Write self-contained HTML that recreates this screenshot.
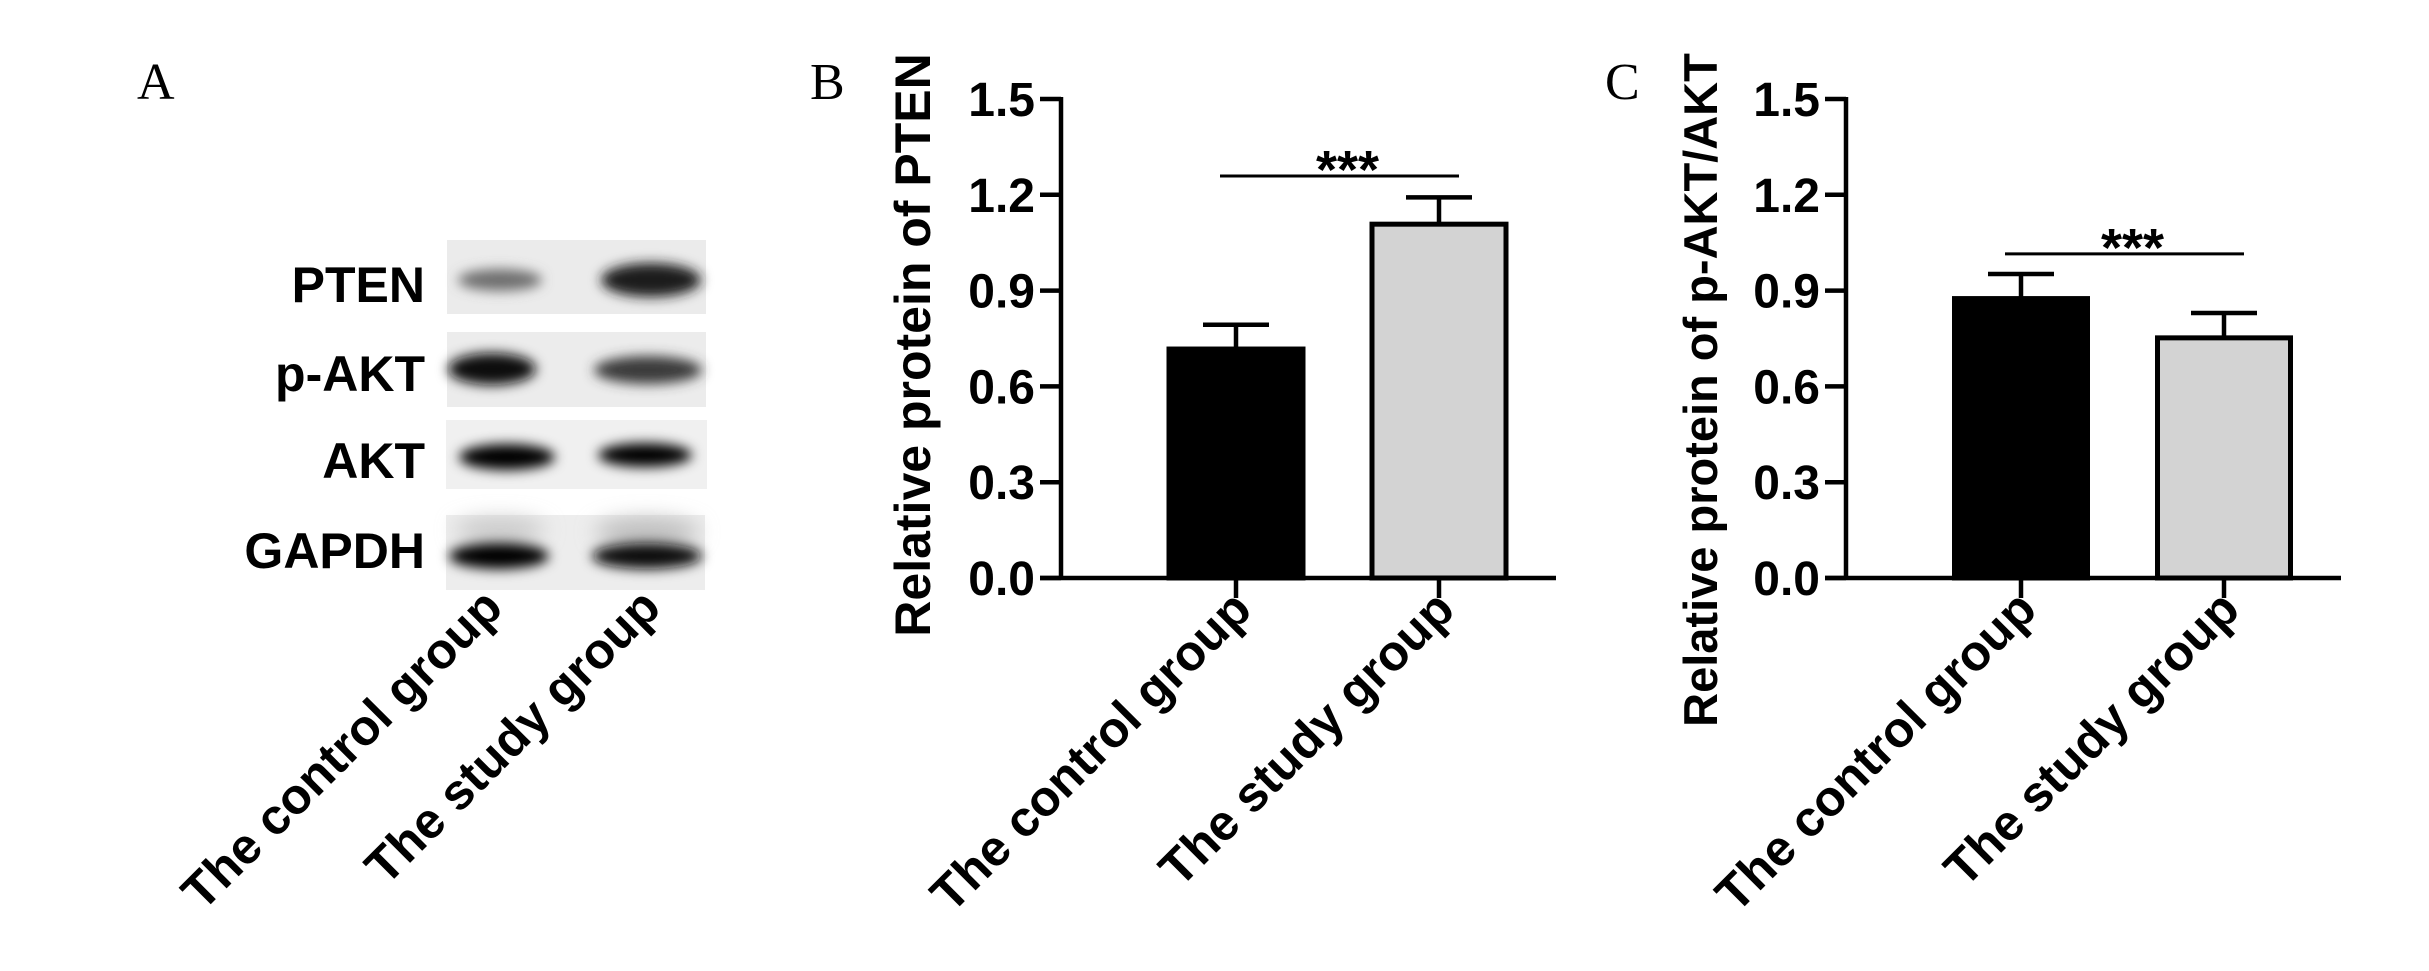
<!DOCTYPE html>
<html><head><meta charset="utf-8"><style>
html,body{margin:0;padding:0;background:#fff;}
svg{display:block;}
text{font-family:"Liberation Sans",Arial,sans-serif;}
</style></head><body>
<svg id="fig" width="2429" height="971" viewBox="0 0 2429 971" xmlns="http://www.w3.org/2000/svg">
<defs>
<filter id="blur6" x="-30%" y="-100%" width="160%" height="300%"><feGaussianBlur stdDeviation="6"/></filter>
<filter id="blur10" x="-30%" y="-100%" width="160%" height="300%"><feGaussianBlur stdDeviation="10"/></filter>
</defs>
<text x="137" y="99" font-size="52" style="font-family:'Liberation Serif',serif">A</text>
<text x="810" y="99" font-size="52" style="font-family:'Liberation Serif',serif">B</text>
<text x="1605" y="99" font-size="52" style="font-family:'Liberation Serif',serif">C</text>

<g>
  <g>
    <rect x="447" y="240" width="259" height="74" fill="#ebebeb"/>
    <ellipse cx="500" cy="280" rx="42" ry="11" fill="#6e6e6e" filter="url(#blur6)"/>
    <ellipse cx="651" cy="280" rx="50" ry="17" fill="#1e1e1e" filter="url(#blur6)"/>
  </g>
  <g>
    <rect x="447" y="332" width="259" height="75" fill="#ececec"/>
    <ellipse cx="492" cy="369" rx="44" ry="16" fill="#111" filter="url(#blur6)"/>
    <ellipse cx="648" cy="370" rx="54" ry="14" fill="#3a3a3a" filter="url(#blur6)"/>
  </g>
  <g>
    <rect x="446" y="420" width="261" height="69" fill="#f0f0f0"/>
    <ellipse cx="507" cy="457" rx="48" ry="13" fill="#000" filter="url(#blur6)"/>
    <ellipse cx="645" cy="455" rx="47" ry="12" fill="#000" filter="url(#blur6)"/>
  </g>
  <g>
    <rect x="446" y="515" width="259" height="75" fill="#ededed"/>
    <ellipse cx="500" cy="530" rx="45" ry="12" fill="#c8c8c8" filter="url(#blur10)"/>
    <ellipse cx="647" cy="532" rx="52" ry="14" fill="#bdbdbd" filter="url(#blur10)"/>
    <ellipse cx="499" cy="556" rx="50" ry="13" fill="#050505" filter="url(#blur6)"/>
    <ellipse cx="647" cy="556" rx="55" ry="13" fill="#111" filter="url(#blur6)"/>
  </g>
  <text x="425" y="302" font-size="50" font-weight="bold" text-anchor="end">PTEN</text>
  <text x="425" y="391" font-size="50" font-weight="bold" text-anchor="end">p-AKT</text>
  <text x="425" y="478" font-size="50" font-weight="bold" text-anchor="end">AKT</text>
  <text x="425" y="568" font-size="50" font-weight="bold" text-anchor="end">GAPDH</text>
  <text transform="translate(505,610) rotate(-45)" font-size="50" font-weight="bold" text-anchor="end">The control group</text>
  <text transform="translate(663,610) rotate(-45)" font-size="50" font-weight="bold" text-anchor="end">The study group</text>
</g>
<g id="chartB"></g>
<g id="chartC"></g>
</svg>
<script>
const categories = ["The control group", "The study group"];
const tickValues = [0, 0.3, 0.6, 0.9, 1.2, 1.5];
const tickLabels = ["0.0", "0.3", "0.6", "0.9", "1.2", "1.5"];
const ptenMeans = [0.717, 1.108];
const ptenErrors = [0.076, 0.084];
const ptenSigLevel = 1.259;
const ptenSigLabel = "***";
const ptenTitle = "Relative protein of PTEN";
const aktMeans = [0.875, 0.752];
const aktErrors = [0.077, 0.078];
const aktSigLevel = 1.015;
const aktSigLabel = "***";
const aktTitle = "Relative protein of p-AKT/AKT";

const NS = "http://www.w3.org/2000/svg";
function mk(parent, tag, attrs) {
  const e = document.createElementNS(NS, tag);
  for (const k in attrs) e.setAttribute(k, attrs[k]);
  parent.appendChild(e);
  return e;
}

function drawChart(g, cfg, means, errors, sigLevel, sigLabel, title, key) {
  const yScale = v => cfg.y0 - (v / 1.5) * (cfg.y0 - cfg.y1);
  const xScale = i => cfg.cx0 + i * cfg.step;
  const ya = mk(g, "line", {x1: cfg.axisX, y1: cfg.y1 - 2, x2: cfg.axisX, y2: cfg.y0 + 2, stroke: "#000", "stroke-width": 4.5});
  
  
  tickValues.forEach((v, i) => {
    const y = yScale(v);
    const t = mk(g, "line", {x1: cfg.axisX - 21, y1: y, x2: cfg.axisX, y2: y, stroke: "#000", "stroke-width": 4.5});
    
    
    const tl = mk(g, "text", {x: cfg.axisX - 26, y: y + 17, "font-size": 48, "font-weight": "bold", "text-anchor": "end"});
    tl.textContent = tickLabels[i];
    
    
  });
  means.forEach((m, i) => {
    const cx = xScale(i);
    const top = yScale(m);
    const bar = mk(g, "rect", {x: cx - cfg.bw / 2, y: top, width: cfg.bw, height: cfg.y0 - top,
      fill: i === 0 ? "#000" : "#d3d3d3", stroke: "#000", "stroke-width": 5});
    
    
    const eTop = yScale(m + errors[i]);
    const ev = mk(g, "line", {x1: cx, y1: top, x2: cx, y2: eTop, stroke: "#000", "stroke-width": 4.5});
    
    
    const ec = mk(g, "line", {x1: cx - 33, y1: eTop, x2: cx + 33, y2: eTop, stroke: "#000", "stroke-width": 4.5});
    
    
    const xt = mk(g, "line", {x1: cx, y1: cfg.y0, x2: cx, y2: cfg.y0 + 20, stroke: "#000", "stroke-width": 4.5});
    
    
    const xl = mk(g, "text", {transform: "translate(" + (cx + 18) + "," + (cfg.y0 + 34) + ") rotate(-45)",
      "font-size": 50, "font-weight": "bold", "text-anchor": "end"});
    xl.textContent = categories[i];
    
    
  });
  const xa = mk(g, "line", {x1: cfg.axisX - 21, y1: cfg.y0, x2: cfg.xEnd, y2: cfg.y0, stroke: "#000", "stroke-width": 4.5});
  
  
  const sy = yScale(sigLevel);
  const sl = mk(g, "line", {x1: xScale(0) - 16, y1: sy, x2: xScale(1) + 20, y2: sy, stroke: "#000", "stroke-width": 3});
  
  
  const st = mk(g, "text", {x: (xScale(0) + xScale(1)) / 2 + 10, y: sy + 12, "font-size": 54, "font-weight": "bold", "text-anchor": "middle"});
  st.textContent = sigLabel;
  
  
  const yt = mk(g, "text", {transform: "translate(" + cfg.titleX + "," + cfg.titleY + ") rotate(-90)",
    "font-size": cfg.titleSize, "font-weight": "bold", "text-anchor": "middle"});
  yt.textContent = title;
  
  
}

drawChart(document.getElementById("chartB"),
  {axisX: 1061, y0: 578, y1: 99, xEnd: 1556, cx0: 1236, step: 203, bw: 134, titleX: 930, titleY: 345, titleSize: 50},
  ptenMeans, ptenErrors, ptenSigLevel, ptenSigLabel, ptenTitle, "pten");
drawChart(document.getElementById("chartC"),
  {axisX: 1846, y0: 578, y1: 99, xEnd: 2341, cx0: 2021, step: 203, bw: 133, titleX: 1717, titleY: 390, titleSize: 47},
  aktMeans, aktErrors, aktSigLevel, aktSigLabel, aktTitle, "akt");
</script>
</body></html>
